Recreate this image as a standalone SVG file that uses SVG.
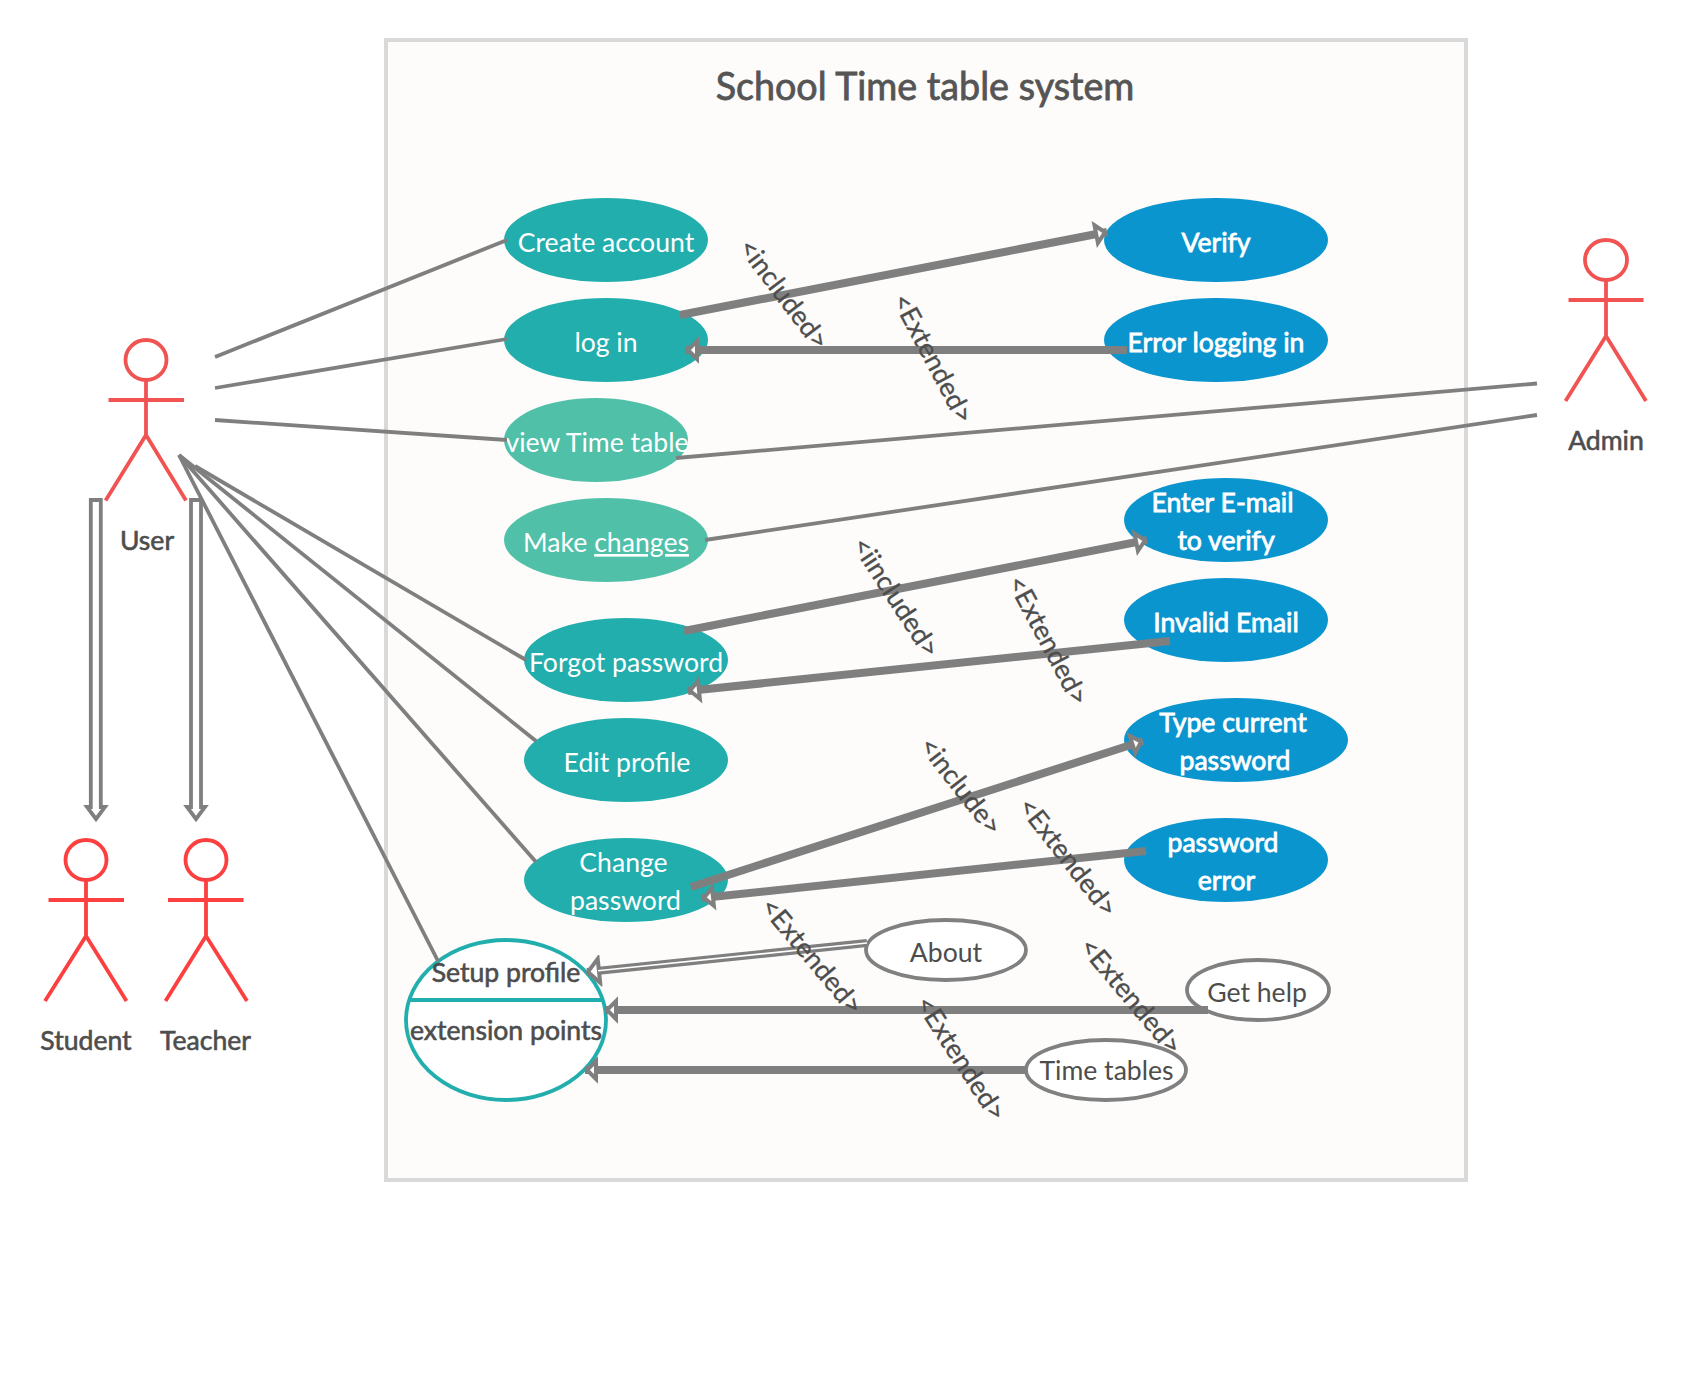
<svg xmlns="http://www.w3.org/2000/svg" width="1686" height="1383" viewBox="0 0 1686 1383">
<style>
text{font-family:"Lato","Liberation Sans",sans-serif;text-anchor:middle}
.u{font-size:26.6px;fill:#fff}
.b{font-size:26.6px;fill:#fff;stroke:#fff;stroke-width:.8px}
.d{font-size:26.6px;fill:#4d4d4d}
.db{font-size:26.6px;fill:#4d4d4d;stroke:#4d4d4d;stroke-width:.6px}
.r{font-size:26.8px;fill:#4d4d4d;stroke:#4d4d4d;stroke-width:.3px}
.ti{font-size:37.7px;fill:#555;stroke:#555;stroke-width:.8px}
.teal{fill:#23aeae}.mint{fill:#50c0a9}.blue{fill:#0a95cf}
.ext{fill:#fff;stroke:#808080;stroke-width:3.8}
.th{fill:none;stroke:#7f7f7f;stroke-width:3.8;stroke-linecap:butt}
.tk{fill:none;stroke:#7f7f7f;stroke-width:8;marker-end:url(#hd)}
.dbl{fill:none;stroke:#7f7f7f;stroke-width:8;marker-end:url(#hdl)}
.in{fill:none;stroke:#fff;stroke-width:1.6}
.gen{fill:#fff;stroke:#7f7f7f;stroke-width:3.8}
.a1{fill:none;stroke:#f15353;stroke-width:3.8;stroke-linecap:butt}
.a2{fill:none;stroke:#fc3f3f;stroke-width:3.8;stroke-linecap:butt}
</style>
<defs>
<marker id="hd" markerUnits="userSpaceOnUse" viewBox="-4 -14 20 28" markerWidth="20" markerHeight="28" refX="11" refY="0" orient="auto"><path d="M0,-9 L9,0 L0,9 Z" fill="#fff" stroke="#7f7f7f" stroke-width="4"/></marker>
<marker id="hdl" markerUnits="userSpaceOnUse" viewBox="-4 -16 22 32" markerWidth="22" markerHeight="32" refX="12" refY="0" orient="auto"><path d="M0,-12 L11,0 L0,12 Z" fill="#fff" stroke="#7f7f7f" stroke-width="4"/></marker>
</defs>
<rect width="1686" height="1383" fill="#fff"/>
<g id="system-boundary"><rect x="386" y="40" width="1080" height="1140" fill="#fdfcfa" stroke="#d9d9d9" stroke-width="4"/><text class="ti" x="925" y="100">School Time table system</text></g>
<g id="create-account"><ellipse class="teal" cx="606" cy="240" rx="102" ry="42"/><text class="u" x="606" y="252">Create account</text></g>
<g id="log-in"><ellipse class="teal" cx="606" cy="340" rx="102" ry="42"/><text class="u" x="606" y="352">log in</text></g>
<g id="view-time-table"><ellipse class="mint" cx="596" cy="440" rx="92" ry="42"/><text class="u" x="597" y="452">view Time table</text></g>
<g id="make-changes"><ellipse class="mint" cx="606" cy="540" rx="102" ry="42"/><text class="u" x="606" y="552">Make <tspan text-decoration="underline">changes</tspan></text></g>
<g id="forgot-password"><ellipse class="teal" cx="626" cy="660" rx="102" ry="42"/><text class="u" x="626" y="672">Forgot password</text></g>
<g id="edit-profile"><ellipse class="teal" cx="626" cy="760" rx="102" ry="42"/><text class="u" x="627" y="772">Edit profile</text></g>
<g id="change-password"><ellipse class="teal" cx="626" cy="880" rx="102" ry="42"/><text class="u" x="623.500" y="872">Change</text><text class="u" x="625.500" y="910">password</text></g>
<g id="verify"><ellipse class="blue" cx="1216" cy="240" rx="112" ry="42"/><text class="b" x="1216" y="252">Verify</text></g>
<g id="error-logging-in"><ellipse class="blue" cx="1216" cy="340" rx="112" ry="42"/><text class="b" x="1216" y="352">Error logging in</text></g>
<g id="enter-email"><ellipse class="blue" cx="1226" cy="520" rx="102" ry="42"/><text class="b" x="1222.500" y="512">Enter E-mail</text><text class="b" x="1226" y="550">to verify</text></g>
<g id="invalid-email"><ellipse class="blue" cx="1226" cy="620" rx="102" ry="42"/><text class="b" x="1226" y="632">Invalid Email</text></g>
<g id="type-current-password"><ellipse class="blue" cx="1236" cy="740" rx="112" ry="42"/><text class="b" x="1233" y="732">Type current</text><text class="b" x="1235" y="770">password</text></g>
<g id="password-error"><ellipse class="blue" cx="1226" cy="860" rx="102" ry="42"/><text class="b" x="1223" y="852">password</text><text class="b" x="1226.500" y="890">error</text></g>
<g id="about"><ellipse class="ext" cx="946" cy="950" rx="80" ry="30"/><text class="d" x="946" y="962">About</text></g>
<g id="get-help"><ellipse class="ext" cx="1258" cy="990" rx="71" ry="30"/><text class="d" x="1257" y="1002">Get help</text></g>
<g id="time-tables"><ellipse class="ext" cx="1106" cy="1070" rx="80" ry="30"/><text class="d" x="1106.500" y="1080">Time tables</text></g>
<g id="setup-profile"><ellipse cx="506" cy="1020" rx="100" ry="80" fill="#fff" stroke="#23aeae" stroke-width="3.800"/><line x1="410" y1="1000" x2="602" y2="1000" stroke="#23aeae" stroke-width="3.800"/></g>
<g id="connectors">
<path class="th" d="M215,357 L507,240"/>
<path class="th" d="M215,388 L507,339"/>
<path class="th" d="M215,420 L507,440"/>
<path class="th" d="M195,466 L526,660"/>
<path class="th" d="M179,455 L536,741"/>
<path class="th" d="M179,455 L536,862"/>
<path class="th" d="M179,455 L438,961"/>
<path class="th" d="M1537,383.500 L676,458"/>
<path class="th" d="M1537,415 L705,540"/>
<path class="tk" d="M680,315 L1107,232"/>
<path class="tk" d="M1127,350 L686,350"/>
<path class="tk" d="M684,631 L1147,540"/>
<path class="tk" d="M1170,641 L688,691"/>
<path class="tk" d="M691,887 L1143,741"/>
<path class="tk" d="M1146,851 L702,898"/>
<path class="tk" d="M1208,1010 L605,1010"/>
<path class="tk" d="M1026,1070 L585,1070"/>
<path class="dbl" d="M867,943 L587,972"/>
<path class="in" d="M867,943 L598,970.800"/>
<path class="gen" d="M90.800,500 H100.800 V807 H105 L96,819 L87,807 H90.800 Z"/>
<path class="gen" d="M191,500 H201 V807 H205 L196,819 L187,807 H191 Z"/>
<text class="r" transform="translate(783 295) rotate(53)" y="8">&lt;included&gt;</text>
<text class="r" transform="translate(932 359) rotate(62)" y="8">&lt;Extended&gt;</text>
<text class="r" transform="translate(895 598) rotate(57)" y="8">&lt;iincluded&gt;</text>
<text class="r" transform="translate(1047 641) rotate(62)" y="8">&lt;Extended&gt;</text>
<text class="r" transform="translate(960 787) rotate(52)" y="8">&lt;include&gt;</text>
<text class="r" transform="translate(1067 858) rotate(52)" y="8">&lt;Extended&gt;</text>
<text class="r" transform="translate(811 957) rotate(50)" y="8">&lt;Extended&gt;</text>
<text class="r" transform="translate(1130 997) rotate(50)" y="8">&lt;Extended&gt;</text>
<text class="r" transform="translate(960 1059) rotate(57)" y="8">&lt;Extended&gt;</text>
</g>
<g id="setup-profile-labels"><text class="db" x="506" y="982">Setup profile</text><text class="db" x="506" y="1040">extension points</text></g>
<g id="user"><ellipse class="a1" cx="146" cy="360" rx="20.500" ry="20"/><path class="a1" d="M146,380 V435 M108.500,400 H184 M146,435 L105.600,500.500 M146,435 L186,500.500"/><text class="db" x="147" y="550">User</text></g>
<g id="student"><ellipse class="a2" cx="86" cy="860" rx="20.500" ry="20"/><path class="a2" d="M86,880 V936 M48.500,900 H124 M86,936 L45,1001 M86,936 L126.500,1001"/><text class="db" x="86" y="1050">Student</text></g>
<g id="teacher"><ellipse class="a2" cx="206" cy="860" rx="20.500" ry="20"/><path class="a2" d="M206,880 V936 M168,900 H243.500 M206,936 L165.500,1001 M206,936 L247,1001"/><text class="db" x="205.500" y="1050">Teacher</text></g>
<g id="admin"><ellipse class="a1" cx="1606" cy="260" rx="21" ry="20"/><path class="a1" d="M1606,280 V336 M1568.500,300 H1643.500 M1606,336 L1565.500,401 M1606,336 L1646,401"/><text class="db" x="1606" y="450">Admin</text></g>
</svg>
